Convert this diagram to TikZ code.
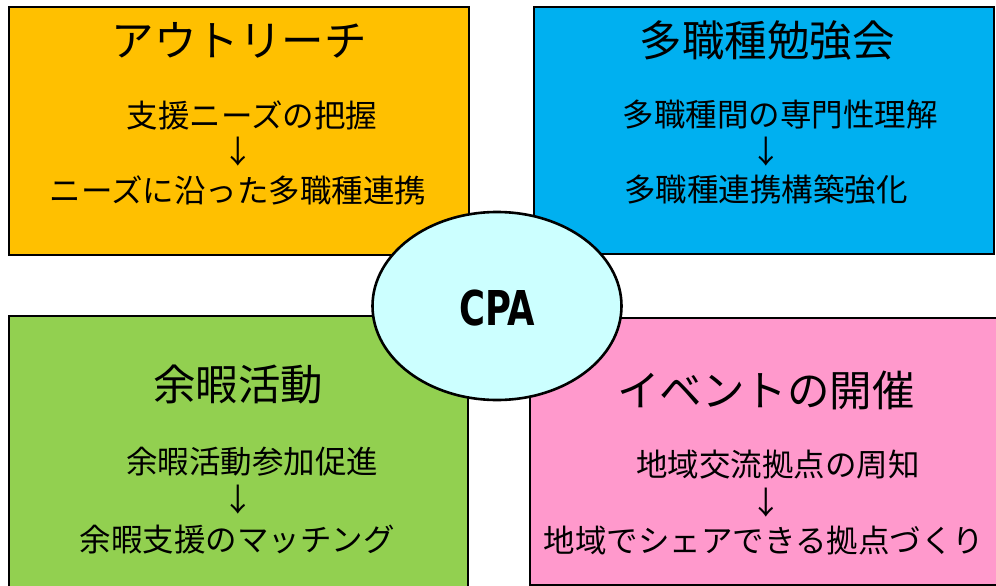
\documentclass[tikz,border=0pt]{standalone}
\usepackage{fontspec}
\usetikzlibrary{shapes.geometric}
\setmainfont{Noto Sans CJK JP}
\newfontfamily\cpafont{DejaVu Sans Condensed}
\definecolor{cOrange}{HTML}{FFC000}
\definecolor{cBlue}{HTML}{00B0F0}
\definecolor{cGreen}{HTML}{92D050}
\definecolor{cPink}{HTML}{FF99CC}
\definecolor{cCyan}{HTML}{CCFFFF}
\tikzset{
  panel/.style={draw=black, line width=2.6pt},
  ttl/.style={font=\fontsize{42.5}{46}\selectfont, inner sep=0pt, anchor=center},
  sub/.style={font=\fontsize{31.5}{34}\selectfont, inner sep=0pt, anchor=center},
  arr/.style={font=\fontsize{31.5}{34}\selectfont, inner sep=0pt, anchor=center}
}
\begin{document}
\begin{tikzpicture}[x=1pt,y=-1pt]
\useasboundingbox (0,0) rectangle (996,586);
% panels
\path[panel, fill=cOrange] (9,7) rectangle (469,255);
\path[panel, fill=cBlue] (534,7) rectangle (994,254);
\path[panel, fill=cGreen] (9,316) rectangle (468,600);
\path[panel, fill=cPink] (530,318) rectangle (1010,585);
% centre ellipse
\node[draw=black, line width=2.6pt, fill=cCyan, ellipse, minimum width=249pt, minimum height=188pt, inner sep=0pt] (cpa) at (497,306) {};
\node[font=\cpafont\bfseries\fontsize{48}{50}\selectfont, inner sep=0pt, xscale=0.82] (cpat) at (497,308) {CPA};
% box 1
\node[ttl] (t1) at (239,40) {アウトリーチ};
\node[sub] (a1) at (252,115) {支援ニーズの把握};
\node[arr] (r1) at (238,152) {↓};
\node[sub] (b1) at (238,190) {ニーズに沿った多職種連携};
% box 2
\node[ttl] (t2) at (767,40) {多職種勉強会};
\node[sub] (a2) at (780,115) {多職種間の専門性理解};
\node[arr] (r2) at (766,152) {↓};
\node[sub] (b2) at (766,190) {多職種連携構築強化};
% box 3
\node[ttl] (t3) at (238,385) {余暇活動};
\node[sub] (a3) at (252,462) {余暇活動参加促進};
\node[arr] (r3) at (238,500) {↓};
\node[sub] (b3) at (237,540) {余暇支援のマッチング};
% box 4
\node[ttl] (t4) at (766,390) {イベントの開催};
\node[sub] (a4) at (778,465) {地域交流拠点の周知};
\node[arr] (r4) at (766,503) {↓};
\node[sub] (b4) at (764,541) {地域でシェアできる拠点づくり};
\end{tikzpicture}
\end{document}
